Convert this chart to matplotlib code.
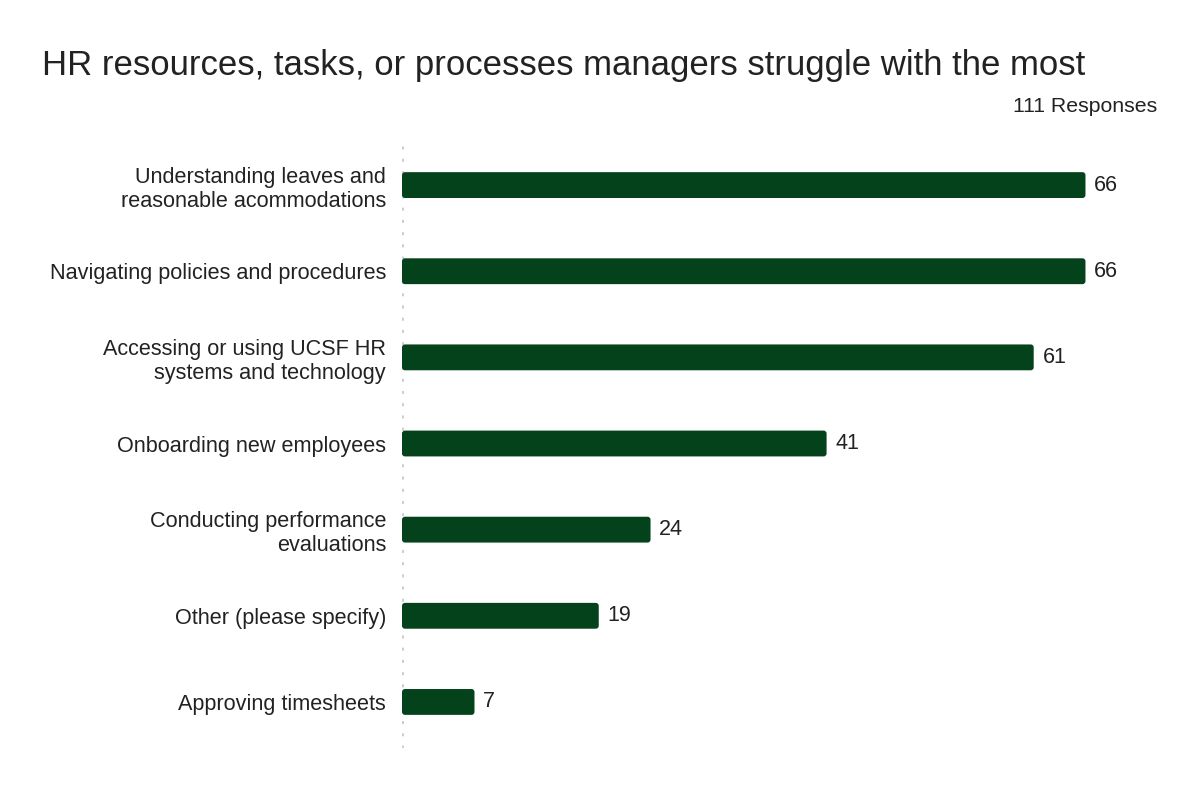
import matplotlib.pyplot as plt
from matplotlib.patches import FancyBboxPatch

categories = [
    'Understanding leaves and\nreasonable acommodations',
    'Navigating policies and procedures',
    'Accessing or using UCSF HR\nsystems and technology',
    'Onboarding new employees',
    'Conducting performance\nevaluations',
    'Other (please specify)',
    'Approving timesheets',
]
counts = [66, 66, 61, 41, 24, 19, 7]
title = 'HR resources, tasks, or processes managers struggle with the most'
subtitle = '111 Responses'

plt.rcParams['font.family'] = ['Liberation Sans', 'DejaVu Sans']
bar_color = '#04421c'

fig = plt.figure(figsize=(12, 7.99), dpi=100)
ax = fig.add_axes([0.335, 0.0638, 0.6317, 0.7547])

pos = list(range(len(categories)))
bars = ax.barh(pos, counts, height=0.30, color=bar_color)

# swap plain bars for slightly rounded ones
x_per_px = 73.2 / 758
y_per_px = 7.0 / 603
for b in bars:
    x, y = b.get_x(), b.get_y()
    w, h = b.get_width(), b.get_height()
    b.remove()
    ax.add_patch(FancyBboxPatch((x, y), w, h,
                                boxstyle='round,pad=0,rounding_size=%f' % (3 * x_per_px),
                                mutation_aspect=y_per_px / x_per_px,
                                facecolor=bar_color, edgecolor='none'))

for p, v in zip(pos, counts):
    ax.text(v + 0.85, p, str(v), va='center', ha='left', fontsize=15.5, color='#222222')

ax.set_xlim(0, 73.2)
ax.set_ylim(6.535, -0.465)
ax.set_yticks(pos)
ax.set_yticklabels(categories, fontsize=15.6, color='#222222', linespacing=1.2)
ax.tick_params(axis='y', length=0, pad=11.5)
ax.set_xticks([])
for s in ax.spines.values():
    s.set_visible(False)
ax.axvline(0, color='#cfcfcf', lw=2.2, linestyle=(0, (1, 3)), zorder=0)

fig.text(42 / 1200, 1 - 66 / 799, title, fontsize=25, va='center', ha='left', color='#222222')
fig.text(1157 / 1200, 1 - 106 / 799, subtitle, fontsize=15.3, va='center', ha='right', color='#222222')

fig.savefig('out.png', dpi=100, facecolor='white')
